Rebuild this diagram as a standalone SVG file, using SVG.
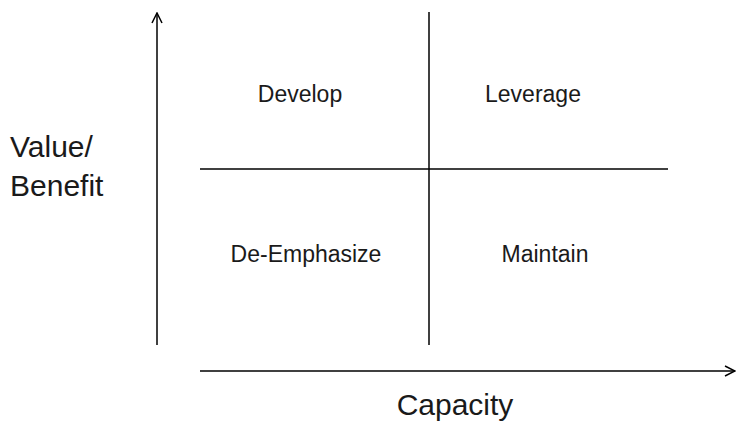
<svg xmlns="http://www.w3.org/2000/svg" width="739" height="421" viewBox="0 0 739 421">
<style>
.ln{stroke:#000;stroke-width:1.5;fill:none}
.q{font-family:"Liberation Sans",Arial,sans-serif;font-size:23px;fill:#1a1a1a;text-anchor:middle}
.ax{font-family:"Liberation Sans",Arial,sans-serif;font-size:30px;fill:#1a1a1a}
</style>
<defs>
<marker id="arr" viewBox="0 0 12 12" refX="11" refY="6" markerWidth="12" markerHeight="12" markerUnits="userSpaceOnUse" orient="auto">
<path d="M1,1 L11,6 L1,11" fill="none" stroke="#000" stroke-width="1.5"/>
</marker>
</defs>
<rect width="739" height="421" fill="#fff"/>
<g id="connectors">
<line class="ln" x1="157" y1="345" x2="157" y2="13" marker-end="url(#arr)"/>
<line class="ln" x1="200" y1="371" x2="735" y2="371" marker-end="url(#arr)"/>
<line class="ln" x1="429" y1="12" x2="429" y2="345"/>
<line class="ln" x1="200" y1="169" x2="668" y2="169"/>
</g>
<g id="develop"><text class="q" x="300" y="102">Develop</text></g>
<g id="leverage"><text class="q" x="533" y="102">Leverage</text></g>
<g id="deemphasize"><text class="q" x="306" y="262">De-Emphasize</text></g>
<g id="maintain"><text class="q" x="545" y="262">Maintain</text></g>
<g id="yaxis"><text class="ax" x="10" y="157">Value/</text><text class="ax" x="10" y="196">Benefit</text></g>
<g id="xaxis"><text class="ax" x="455" y="415" text-anchor="middle">Capacity</text></g>
</svg>
